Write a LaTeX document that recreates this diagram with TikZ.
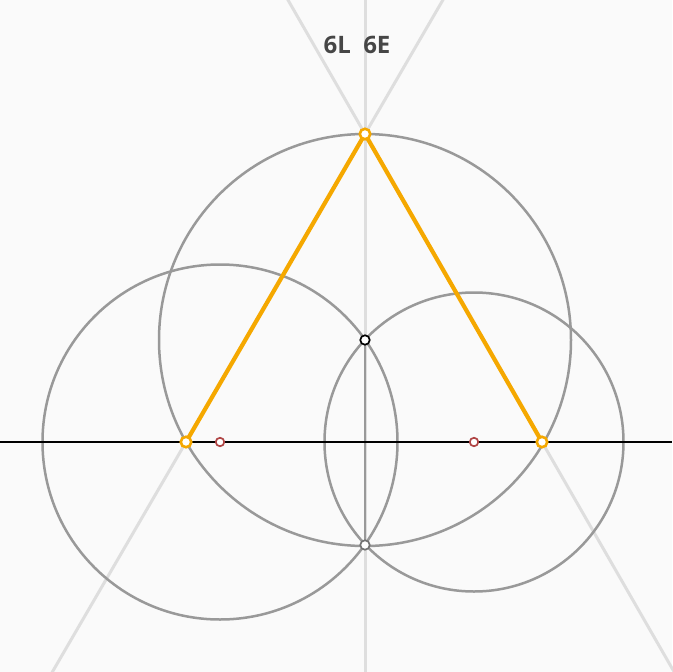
\documentclass[tikz,border=0pt]{standalone}
\usepackage{fontspec}
\setsansfont{Open Sans}
\usetikzlibrary{calc}
\definecolor{triorange}{HTML}{F5A800}
\definecolor{ptred}{HTML}{B04545}
\definecolor{lblgray}{HTML}{464646}
\begin{document}
\begin{tikzpicture}[x=1pt,y=-1pt,
  guide/.style={draw=black!13,line width=3pt},
  circ/.style={draw=black!40,line width=2.5pt},
  tri/.style={draw=triorange,line width=4.2pt,line join=round},
  opt/.style={circle,draw=triorange,fill=white,line width=2.6pt,inner sep=0pt,minimum size=10.5pt},
  rpt/.style={circle,draw=ptred,fill=white,line width=1.7pt,inner sep=0pt,minimum size=8.5pt},
  bpt/.style={circle,draw=black,fill=white,line width=1.7pt,inner sep=0pt,minimum size=9.5pt},
  gpt/.style={circle,draw=black!55,fill=white,line width=1.7pt,inner sep=0pt,minimum size=9.5pt}]
\fill[black!2] (0,0) rectangle (672,672);
\useasboundingbox (0,0) rectangle (672,672);
\coordinate (T) at (365,134);
\coordinate (L) at (186,442);
\coordinate (R) at (542,442);
\coordinate (M) at (365,340);
\coordinate (W) at (365,545);
\coordinate (CL) at (220,442);
\coordinate (CR) at (474,442);
\coordinate (vtop) at (365,0);
\coordinate (vbot) at (365,672);
\coordinate (hl) at (0,442);
\coordinate (hr) at (672,442);
% guide lines
\draw[guide] (vtop) -- (vbot);
\draw[guide] ($(T)!-0.44!(L)$) -- ($(T)!1.75!(L)$);
\draw[guide] ($(T)!-0.44!(R)$) -- ($(T)!1.75!(R)$);
% circles
\draw[circ] (M) circle[radius=206];
\draw[circ] (CL) circle[radius=177.5];
\draw[circ] (CR) circle[radius=149.5];
\draw[circ] (M) -- (W);
% axis
\draw[black,line width=1.5pt] (hl) -- (hr);
% triangle
\draw[tri] (L) -- (T) -- (R);
% points
\node[opt] (pT) at (T) {};
\node[opt] (pL) at (L) {};
\node[opt] (pR) at (R) {};
\node[bpt] (pM) at (M) {};
\node[gpt] (pW) at (W) {};
\node[rpt] (pCL) at (CL) {};
\node[rpt] (pCR) at (CR) {};
\node[font=\sffamily\bfseries\fontsize{24}{27}\selectfont,text=lblgray,anchor=base] (lbl) at (357,53) {6L\ \ 6E};
\end{tikzpicture}
\end{document}
